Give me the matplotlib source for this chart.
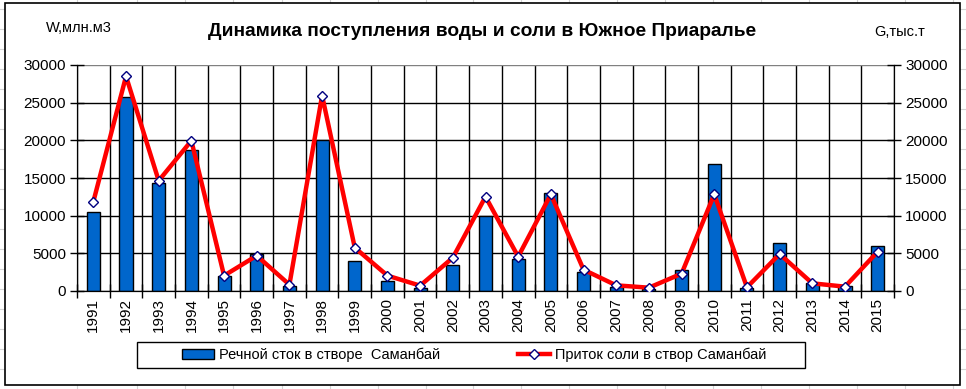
import numpy as np
import matplotlib
matplotlib.use("Agg")
import matplotlib.pyplot as plt
from matplotlib.lines import Line2D
from matplotlib.patches import Rectangle, Patch

plt.rcParams['font.family'] = ['Liberation Sans', 'DejaVu Sans']

years = [str(y) for y in range(1991, 2016)]
# river flow, mln m3 (bars, left axis)
water = [10500, 25800, 14400, 18700, 2000, 4900, 660, 20000, 4000, 1330,
         400, 3450, 9900, 4250, 13000, 2520, 580, 220, 2790, 16800,
         400, 6320, 1060, 660, 5970]
# salt inflow, thousand t (line, right axis)
salt = [11850, 28500, 14640, 19950, 2040, 4690, 840, 25950, 5750, 2040,
        710, 4420, 12520, 4560, 12830, 2830, 750, 440, 2300, 12830,
        490, 4910, 1020, 575, 5220]

title = "Динамика поступления воды и соли в Южное Приаралье"
label_w = "W,млн.м3"
label_g = "G,тыс.т"
name_water = "Речной сток в створе  Саманбай"
name_salt = "Приток соли в створ Саманбай"

W, H = 966, 389
fig = plt.figure(figsize=(W / 100, H / 100), dpi=100)
fig.patch.set_facecolor('white')

# worksheet cells behind the chart
for x in [77, 137, 185, 233, 282, 330, 378, 426, 473, 521, 569, 617, 665,
          713, 761, 809, 857, 905, 953]:
    fig.add_artist(Line2D([x / W, x / W], [0, 1], color='#d4d4d4', lw=0.8, zorder=-3))
for y in np.arange(9, H, 20):
    fig.add_artist(Line2D([0, 1], [1 - y / H, 1 - y / H], color='#d4d4d4', lw=0.8, zorder=-3))

# chart area
fig.add_artist(Rectangle((5 / W, 1 - 385 / H), 955 / W, 382 / H, facecolor='white',
                         edgecolor='black', lw=1.2, zorder=-2))

left, right, top, bottom = 77, 894, 65, 291
ax = fig.add_axes([left / W, 1 - bottom / H, (right - left) / W, (bottom - top) / H])
ax2 = ax.twinx()

x = np.arange(len(years))
ax.bar(x, water, width=0.4, color='#0066cc', edgecolor='black', lw=1, zorder=2)
ax2.plot(x, salt, color='#ff0000', lw=3.2, marker='D', ms=5.5,
         markerfacecolor='white', markeredgecolor='#000080', markeredgewidth=1, zorder=3)

for a in (ax, ax2):
    a.set_ylim(0, 30000)
    a.set_yticks(np.arange(0, 30001, 5000))
    a.set_xlim(-0.5, len(years) - 0.5)
    for s in a.spines.values():
        s.set_color('black')
    a.spines['top'].set_visible(False)

ax.set_xticks(np.arange(-0.5, len(years), 1))
ax.set_xticklabels([])
ax.set_xticks(x, minor=True)
ax.set_xticklabels(years, minor=True, rotation=90, fontsize=11)
ax.tick_params(axis='x', which='major', direction='inout', length=10, width=1)
ax.tick_params(axis='x', which='minor', length=0, pad=5)
ax.tick_params(axis='y', direction='inout', length=10, width=1, labelsize=11, pad=3)
ax2.tick_params(axis='y', direction='inout', length=10, width=1, labelsize=11, pad=3)

ax.set_axisbelow(True)
ax.grid(True, which='major', color='black', lw=1)
ax.yaxis.get_gridlines()[-1].set_color('#808080')

ax.set_zorder(1)
ax2.set_zorder(2)
ax2.patch.set_visible(False)

fig.text(482 / W, 1 - 32 / H, title, ha='center', va='center', fontsize=13.8, fontweight='bold')
fig.text(79 / W, 1 - 28 / H, label_w, ha='center', va='center', fontsize=10.5)
fig.text(900 / W, 1 - 32 / H, label_g, ha='center', va='center', fontsize=10.5)

# legend frame
fig.add_artist(Rectangle((137 / W, 1 - 368 / H), 668 / W, 26 / H, facecolor='white',
                         edgecolor='black', lw=1, zorder=3))
handles = [Patch(facecolor='#0066cc', edgecolor='black', lw=1),
           Line2D([], [], color='#ff0000', lw=3.2, marker='D', ms=5.5,
                  markerfacecolor='white', markeredgecolor='#000080')]
leg = fig.legend(handles, [name_water, name_salt], loc='center',
                 bbox_to_anchor=(474 / W, 1 - 355 / H), ncol=2, fontsize=10.5,
                 frameon=False, columnspacing=5.3, handlelength=2.2,
                 handletextpad=0.35, borderpad=0.3)
leg.set_zorder(4)

fig.savefig('out.png', dpi=100)
